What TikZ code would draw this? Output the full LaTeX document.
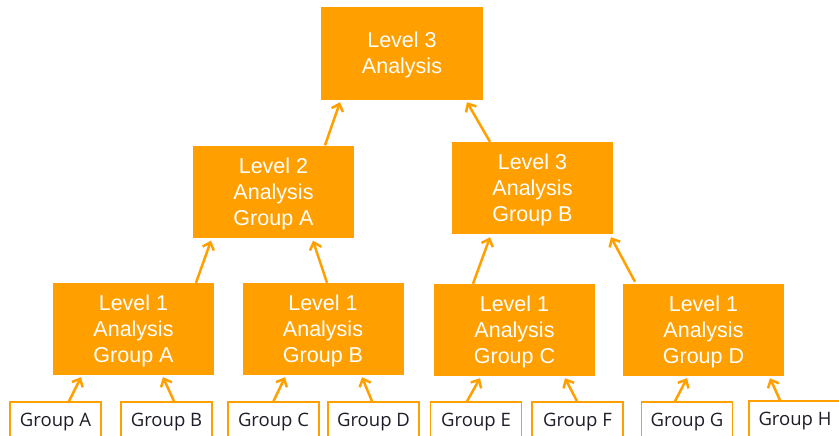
\documentclass[tikz,border=0pt]{standalone}
\usepackage{fontspec}
\setmainfont{Liberation Sans}
\newfontfamily\grpfont{Open Sans}
\usetikzlibrary{arrows.meta}
\definecolor{boxorange}{HTML}{FFA000}
\definecolor{grptext}{HTML}{1E1E2A}
\tikzset{
  anbox/.style={fill=boxorange, draw=none,
    minimum width=161pt, minimum height=92pt, inner sep=0pt},
  antext/.style={text=white, align=center, inner sep=0pt,
    font=\fontsize{21.5}{26}\selectfont},
  grpbox/.style={fill=white, draw=boxorange, line width=1.5pt, text=grptext,
    minimum width=91pt, minimum height=41pt, inner sep=0pt,
    font=\grpfont\fontsize{18.5}{22}\selectfont},
  uparrow/.style={draw=boxorange, line width=2.5pt,
    -{Straight Barb[length=6.5pt,width=12pt,line width=2.5pt]}}
}
\begin{document}
\begin{tikzpicture}[x=1pt,y=-1pt]
\useasboundingbox (0,0) rectangle (839,436);
\clip (0,0) rectangle (839,436);
% analysis boxes
\node[anbox, minimum height=93pt, minimum width=162pt] (top) at (402,53.5) {};
\node[anbox] (l2a) at (273.5,191.5) {};
\node[anbox] (l3b) at (532.5,188) {};
\node[anbox] (l1a) at (133.5,329) {};
\node[anbox] (l1b) at (323,329) {};
\node[anbox] (l1c) at (514.5,330) {};
\node[anbox] (l1d) at (703.5,330) {};
\node[antext] (ttop) at ([yshift=-1.5pt]top.center) {Level 3\\Analysis};
\node[antext] (tl2a) at ([yshift=-2pt]l2a.center) {Level 2\\Analysis\\Group A};
\node[antext] (tl3b) at ([yshift=-2pt]l3b.center) {Level 3\\Analysis\\Group B};
\node[antext] (tl1a) at ([yshift=-2pt]l1a.center) {Level 1\\Analysis\\Group A};
\node[antext] (tl1b) at ([yshift=-2pt]l1b.center) {Level 1\\Analysis\\Group B};
\node[antext] (tl1c) at ([yshift=-2pt]l1c.center) {Level 1\\Analysis\\Group C};
\node[antext] (tl1d) at ([yshift=-2pt]l1d.center) {Level 1\\Analysis\\Group D};
% group boxes
\node[grpbox] (gA) at (55.5,422.5) {Group A};
\node[grpbox] (gB) at (166.5,422.5) {Group B};
\node[grpbox] (gC) at (273.5,422.5) {Group C};
\node[grpbox] (gD) at (373.5,422.5) {Group D};
\node[grpbox] (gE) at (476,422.5) {Group E};
\node[grpbox] (gF) at (577.5,422.5) {Group F};
\node[grpbox] (gG) at (687,422.5) {Group G};
\node[grpbox, minimum width=92pt] (gH) at (795,421.5) {Group H};
% arrows group -> level 1
\draw[uparrow] ([xshift=13.5pt]gA.north) -- ([xshift=-52.5pt,yshift=-2pt]l1a.south);
\draw[uparrow] ([xshift=7.5pt]gB.north) -- ([xshift=29.5pt,yshift=-2pt]l1a.south);
\draw[uparrow] ([xshift=0pt]gC.north) -- ([xshift=-38pt,yshift=-2pt]l1b.south);
\draw[uparrow] ([xshift=-1.5pt]gD.north) -- ([xshift=39pt,yshift=-2pt]l1b.south);
\draw[uparrow] ([xshift=-9pt]gE.north) -- ([xshift=-34.5pt,yshift=-2pt]l1c.south);
\draw[uparrow] ([xshift=-0.5pt]gF.north) -- ([xshift=50.5pt,yshift=-2pt]l1c.south);
\draw[uparrow] ([xshift=-12pt]gG.north) -- ([xshift=-16.5pt,yshift=-2pt]l1d.south);
\draw[uparrow] ([xshift=-15pt]gH.north) -- ([xshift=66.5pt,yshift=-2pt]l1d.south);
% level 1 -> level 2/3
\draw[uparrow] ([xshift=62.5pt]l1a.north) -- ([xshift=-62.5pt,yshift=-3pt]l2a.south);
\draw[uparrow] ([xshift=4pt]l1b.north) -- ([xshift=39.5pt,yshift=-3pt]l2a.south);
\draw[uparrow] ([xshift=-41.5pt]l1c.north) -- ([xshift=-42.5pt,yshift=-3pt]l3b.south);
\draw[uparrow] ([xshift=-68.5pt,yshift=2pt]l1d.north) -- ([xshift=78.5pt,yshift=-3pt]l3b.south);
% level 2/3 -> top
\draw[uparrow] ([xshift=51.5pt]l2a.north) -- ([xshift=-62pt,yshift=-2pt]top.south);
\draw[uparrow] ([xshift=-42.5pt]l3b.north) -- ([xshift=65pt,yshift=-2pt]top.south);
\end{tikzpicture}
\end{document}
